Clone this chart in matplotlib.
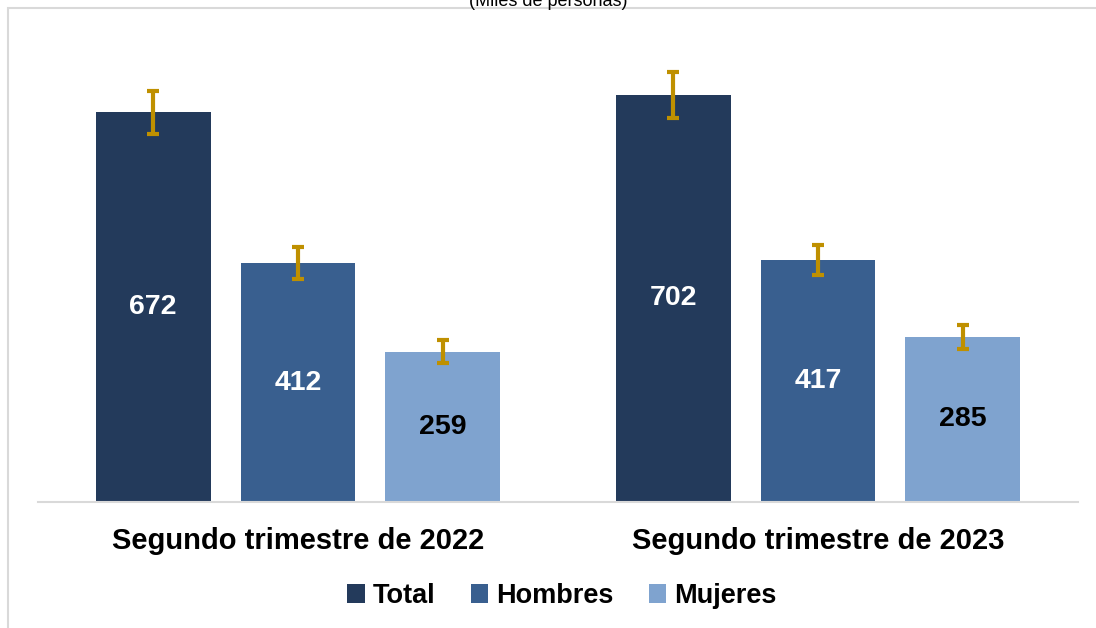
import numpy as np
import matplotlib
matplotlib.use('Agg')
import matplotlib.pyplot as plt
from matplotlib.patches import Rectangle

# Datos (miles de personas)
periodos = ['Segundo trimestre de 2022', 'Segundo trimestre de 2023']
series = ['Total', 'Hombres', 'Mujeres']
total = [672, 702]
hombres = [412, 417]
mujeres = [259, 285]
err_total = [37, 40]
err_hombres = [27, 26]
err_mujeres = [20, 21]

colores = ['#233A5B', '#395F8F', '#7FA3CF']
color_texto = ['white', 'white', 'black']
color_error = '#BF9000'

plt.rcParams['font.family'] = ['Liberation Sans', 'DejaVu Sans']

fig = plt.figure(figsize=(10.96, 6.28), dpi=100)
ax = fig.add_axes([38 / 1096, 126 / 628, 1040 / 1096, 480 / 628])

# marco exterior
fig.patches.append(Rectangle((8 / 1096, -0.05), 1.1, 1 - 8 / 628 + 0.05,
                             transform=fig.transFigure, fill=False,
                             edgecolor='#D9D9D9', linewidth=1.5))

x = np.arange(len(periodos))
ancho = 0.221
paso = 0.2786
datos = [total, hombres, mujeres]
errores = [err_total, err_hombres, err_mujeres]

for i, (vals, errs) in enumerate(zip(datos, errores)):
    pos = x + (i - 1) * paso
    ax.bar(pos, vals, ancho, color=colores[i], label=series[i], zorder=2)
    ax.errorbar(pos, vals, yerr=errs, fmt='none', ecolor=color_error,
                elinewidth=3, capsize=4.5, capthick=3, zorder=3)
    for p, v in zip(pos, vals):
        ax.text(p, v / 2, str(v), ha='center', va='center', fontsize=20.5,
                fontweight='bold', color=color_texto[i], zorder=4)

ax.set_xlim(-0.5, 1.5)
ax.set_ylim(0, 480 / 0.58)
ax.set_xticks(x)
ax.set_xticklabels(periodos, fontsize=21, fontweight='bold')
ax.tick_params(axis='x', length=0, pad=18)
ax.set_yticks([])
for lado in ['top', 'right', 'left']:
    ax.spines[lado].set_visible(False)
ax.spines['bottom'].set_color('#D9D9D9')
ax.spines['bottom'].set_linewidth(1.5)

fig.text(0.5, 1 - 1 / 628, '(Miles de personas)', ha='center', va='center', fontsize=13)

fig.legend(loc='center', bbox_to_anchor=(562 / 1096, 1 - 596 / 628), ncol=3,
           frameon=False, prop={'size': 19.5, 'weight': 'bold'},
           handlelength=0.65, handleheight=0.65, handletextpad=0.3,
           columnspacing=1.3)

fig.savefig('out.png', dpi=100)
